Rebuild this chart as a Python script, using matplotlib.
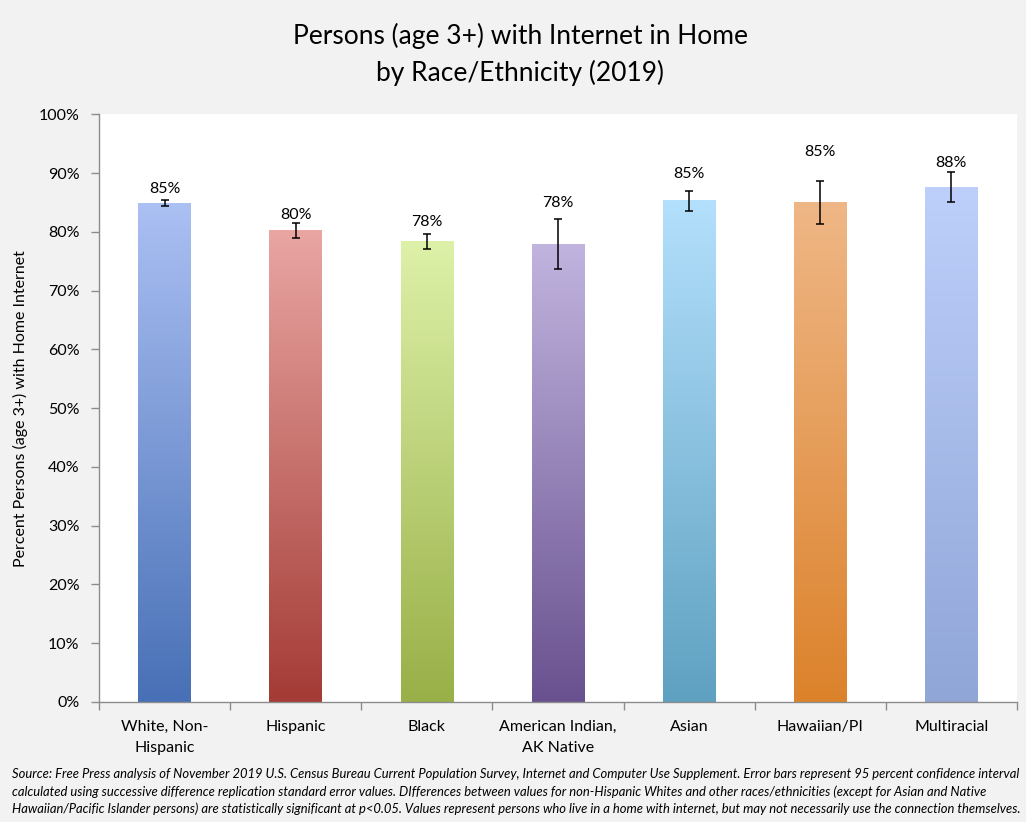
import numpy as np
import matplotlib
matplotlib.use("Agg")
import matplotlib.pyplot as plt
from matplotlib.colors import LinearSegmentedColormap

categories = ["White, Non-\nHispanic", "Hispanic", "Black", "American Indian,\nAK Native",
              "Asian", "Hawaiian/PI", "Multiracial"]
values = [84.9, 80.2, 78.4, 77.9, 85.3, 85.0, 87.6]
errors = [0.5, 1.3, 1.3, 4.2, 1.7, 3.6, 2.5]
labels = ["85%", "80%", "78%", "78%", "85%", "85%", "88%"]

top_colors = ["#abc0f3", "#e9a6a3", "#ddf1a8", "#c1b4df", "#b3e0fc", "#efb786", "#bdcffb"]
bottom_colors = ["#4870b6", "#a43b35", "#98b047", "#69518f", "#5fa1c1", "#dc822b", "#90a6d7"]
# label lift above the error bar, in points (labels were placed by hand)
label_offsets = [3, 1, 3, 7, 7, 16, 2]

title = "Persons (age 3+) with Internet in Home\nby Race/Ethnicity (2019)"
ylabel = "Percent Persons (age 3+) with Home Internet"
note = ("Source: Free Press analysis of November 2019 U.S. Census Bureau Current Population Survey, Internet and Computer Use Supplement. "
        "Error bars represent 95 percent confidence interval\n"
        "calculated using successive difference replication standard error values. DIfferences between values for non-Hispanic Whites "
        "and other races/ethnicities (except for Asian and Native\n"
        "Hawaiian/Pacific Islander persons) are statistically significant at p<0.05. Values represent persons who live in a home with "
        "internet, but may not necessarily use the connection themselves.")

plt.rcParams['font.family'] = ['Lato', 'DejaVu Sans']

fig = plt.figure(figsize=(10.26, 8.22), dpi=100, facecolor="#f2f2f2")
ax = fig.add_axes([0.0965, 0.146, 0.8947, 0.715])
ax.set_facecolor("white")

x = np.arange(len(categories))
width = 0.4
bars = ax.bar(x, values, width=width, color="none", edgecolor="none", zorder=2)

grad = np.linspace(1, 0, 256).reshape(-1, 1)
for b, c_top, c_bot in zip(bars, top_colors, bottom_colors):
    cmap = LinearSegmentedColormap.from_list("g", [c_bot, c_top])
    x0 = b.get_x()
    ax.imshow(grad, cmap=cmap, aspect="auto", origin="upper",
              extent=[x0, x0 + b.get_width(), 0, b.get_height()], zorder=2,
              interpolation="bilinear")

ax.errorbar(x, values, yerr=errors, fmt="none", ecolor="black", elinewidth=1.1,
            capsize=3, capthick=1.1, zorder=3)

for xi, v, e, lab, off in zip(x, values, errors, labels, label_offsets):
    ax.annotate(lab, (xi, v + e), xytext=(0, off), textcoords="offset points",
                ha="center", va="bottom", fontsize=11.5, color="black")

ax.set_xlim(-0.5, len(categories) - 0.5)
ax.set_ylim(0, 100)
ax.set_yticks(np.arange(0, 101, 10))
ax.set_yticklabels([f"{t}%" for t in range(0, 101, 10)], fontsize=11.5)
ax.set_xticks(x)
ax.set_xticklabels(categories, fontsize=11.5, linespacing=1.6)
ax.set_xticks(np.arange(-0.5, len(categories), 1), minor=True)
ax.tick_params(axis="x", which="major", length=0, pad=13)
ax.tick_params(axis="x", which="minor", length=6, color="#8c8c8c", width=1)
ax.tick_params(axis="y", length=6, color="#8c8c8c", width=1, pad=8)

for s in ["top", "right"]:
    ax.spines[s].set_visible(False)
for s in ["left", "bottom"]:
    ax.spines[s].set_color("#8c8c8c")
    ax.spines[s].set_linewidth(1)

ax.set_ylabel(ylabel, fontsize=11.5, labelpad=10)
ax.yaxis.set_label_coords(-0.077, 0.5)

fig.text(0.507, 0.934, title, ha="center", va="center", fontsize=19, linespacing=1.5)
fig.text(0.012, 0.037, note, ha="left", va="center", fontsize=9.35, style="italic",
         linespacing=1.45)

fig.savefig("out.png", dpi=100, facecolor=fig.get_facecolor())
